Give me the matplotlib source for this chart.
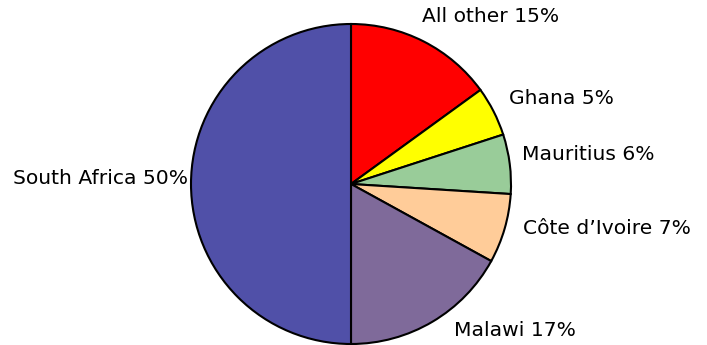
import matplotlib.pyplot as plt

# Data
labels = ['All other', 'Ghana', 'Mauritius', "Côte d\u2019Ivoire", 'Malawi', 'South Africa']
shares = [15, 5, 6, 7, 17, 50]
colors = ['#ff0000', '#ffff00', '#99cc99', '#ffcc99', '#7f6a9a', '#5050a8']

fig = plt.figure(figsize=(7.07, 3.45), dpi=100)
ax = fig.add_axes([0, 0, 1, 1])

ax.pie(shares, colors=colors, startangle=90, counterclock=False,
       center=(351, 161), radius=160,
       wedgeprops=dict(edgecolor='black', linewidth=1.5))

# pie() resets the limits, so set them afterwards
ax.set_xlim(0, 707)
ax.set_ylim(0, 345)
ax.set_aspect('equal')
ax.axis('off')

# label placement (pixel coords, y measured from top)
pos = [(422, 17, 'left'), (509, 99, 'left'), (522, 155, 'left'),
       (523, 229, 'left'), (454, 330, 'left'), (188, 178, 'right')]
for lab, v, (x, y, ha) in zip(labels, shares, pos):
    ax.text(x, 345 - y, f'{lab} {v}%', ha=ha, va='center', fontsize=14.6,
            color='black')

fig.savefig('out.png', dpi=100)
